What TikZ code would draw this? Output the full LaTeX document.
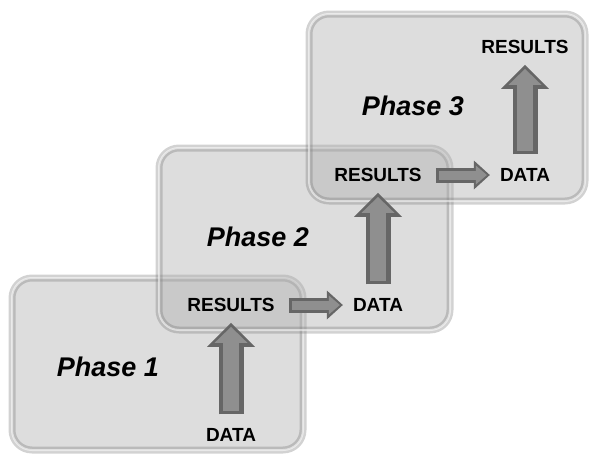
\documentclass[tikz,border=0pt]{standalone}
\usepackage{fontspec}
\setmainfont{Liberation Sans}
\usetikzlibrary{arrows.meta}

\definecolor{boxfill}{gray}{0.68}
\definecolor{rimgray}{gray}{0.45}
\definecolor{arrowdark}{gray}{0.40}
\definecolor{arrowlight}{gray}{0.56}

% block arrow = dark body + lighter inset on top
\newcommand\blockarrow[3]{%
  \draw[#1] (#2) -- (#3);
  \draw[#1 shine] (#2) -- (#3);}

\begin{document}
\begin{tikzpicture}[x=1pt,y=-1pt,
    phase/.style={rectangle,rounded corners=20pt,fill=boxfill,fill opacity=0.42,
      draw=rimgray,draw opacity=0.32,line width=7pt,
      postaction={draw=white,draw opacity=0.55,line width=2pt}},
    word/.style={inner sep=0pt,font=\fontsize{19}{21}\selectfont\bfseries},
    title/.style={inner sep=0pt,font=\fontsize{27}{30}\selectfont\bfseries\itshape},
    uparr/.style={draw=arrowdark,line width=25pt,shorten <=14pt,shorten >=11pt,
      -{Triangle[length=24pt,width=48pt,line width=0pt]}},
    uparr shine/.style={draw=arrowlight,line width=16pt,shorten <=17pt,shorten >=15pt,
      -{Triangle[length=16pt,width=33pt,line width=0pt]}},
    rightarr/.style={draw=arrowdark,line width=15pt,shorten <=14pt,shorten >=10pt,
      -{Triangle[length=16pt,width=29pt,line width=0pt]}},
    rightarr shine/.style={draw=arrowlight,line width=9pt,shorten <=17pt,shorten >=13pt,
      -{Triangle[length=11pt,width=19pt,line width=0pt]}}]
    \useasboundingbox (0,0) rectangle (590,458);

    % the three phases
    \node[phase,minimum width=291pt,minimum height=172pt] (box1) at (157.5,364) {};
    \node[phase,minimum width=291pt,minimum height=182pt] (box2) at (304.5,239) {};
    \node[phase,minimum width=276pt,minimum height=187pt] (box3) at (447,107.5) {};

    \node[title] (ph1) at (108,367) {Phase 1};
    \node[title] (ph2) at (258,237) {Phase 2};
    \node[title] (ph3) at (413,106) {Phase 3};

    \node[word] (data1) at (231,435) {DATA};
    \node[word] (res1) at (231,305) {RESULTS};
    \node[word] (data2) at (378,305) {DATA};
    \node[word] (res2) at (378,175) {RESULTS};
    \node[word] (data3) at (525,175) {DATA};
    \node[word] (res3) at (525,47) {RESULTS};

    \blockarrow{uparr}{data1}{res1}
    \blockarrow{rightarr}{res1}{data2}
    \blockarrow{uparr}{data2}{res2}
    \blockarrow{rightarr}{res2}{data3}
    \blockarrow{uparr}{data3}{res3}
\end{tikzpicture}
\end{document}
